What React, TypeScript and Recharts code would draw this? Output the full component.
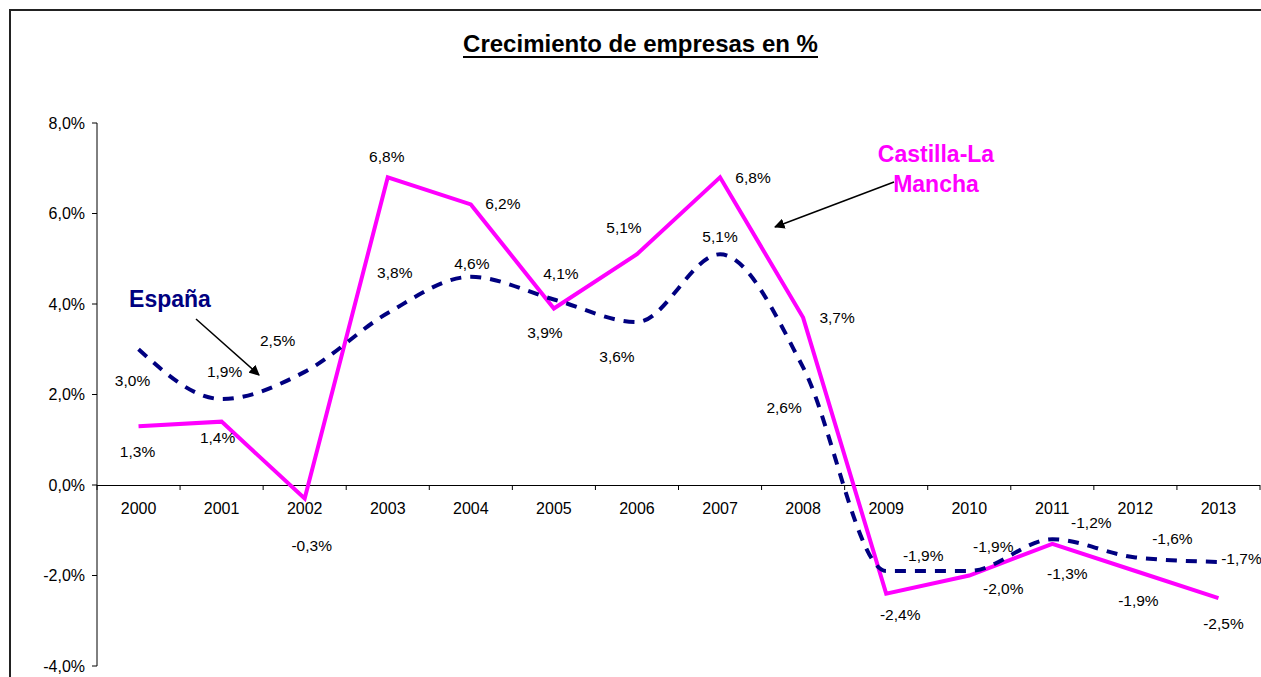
import React from 'react';
import { LineChart, Line, XAxis, YAxis, ReferenceLine } from 'recharts';

const years = ['2000', '2001', '2002', '2003', '2004', '2005', '2006', '2007', '2008', '2009', '2010', '2011', '2012', '2013'];
const espana = [3.0, 1.9, 2.5, 3.8, 4.6, 4.1, 3.6, 5.1, 2.6, -1.9, -1.9, -1.2, -1.6, -1.7];
const castilla = [1.3, 1.4, -0.3, 6.8, 6.2, 3.9, 5.1, 6.8, 3.7, -2.4, -2.0, -1.3, -1.9, -2.5];
const yTicks = [-4, -2, 0, 2, 4, 6, 8];

// label offsets from the point, in px (hand placed like the original)
const espanaLabelOffset = [
  [-6, 31], [3, -28], [-27, -31], [7, -41], [1, -13], [7, -26], [-20, 34],
  [0, -18], [-19, 40], [37, -15], [24, -24], [39, -17], [37, -19], [23, -3],
];
const castillaLabelOffset = [
  [-1, 25], [-4, 16], [7, 47], [-1, -21], [32, -1], [-9, 24], [-13, -27],
  [33, 0], [34, 0], [14, 21], [34, 13], [15, 30], [3, 30], [5, 25],
];

const W = 1261;
const H = 677;
const MARGIN = { top: 123, right: 1, bottom: 10, left: 0 };
const X_AXIS_H = 1;
const Y_AXIS_W = 97;
const Y_MIN = -4;
const Y_MAX = 8;
const PLOT_H = H - MARGIN.top - MARGIN.bottom - X_AXIS_H;
const PLOT_W = W - MARGIN.left - MARGIN.right - Y_AXIS_W;
const ZERO_Y = MARGIN.top + (PLOT_H * Y_MAX) / (Y_MAX - Y_MIN);
const BAND = PLOT_W / years.length;

const FONT = '"Liberation Sans", Arial, sans-serif';
const NAVY = '#000080';
const MAGENTA = '#FF00FF';

const data = years.map((year, i) => ({ year, espana: espana[i], castilla: castilla[i] }));

const fmt = (v: number) => v.toFixed(1).replace('.', ',') + '%';

const renderYearTick = (props: any) => {
  const { x, payload, index } = props;
  const left = x - BAND / 2;
  const right = x + BAND / 2;
  return (
    <g key={`yt-${index}`}>
      <line x1={left} x2={left} y1={ZERO_Y} y2={ZERO_Y + 5} stroke="#000" />
      {index === years.length - 1 && <line x1={right} x2={right} y1={ZERO_Y} y2={ZERO_Y + 5} stroke="#000" />}
      <text x={x} y={ZERO_Y + 29} textAnchor="middle" fontSize={16} fontFamily={FONT} fill="#000">
        {payload.value}
      </text>
    </g>
  );
};

const makeLabel = (offsets: number[][]) => (props: any) => {
  const { x, y, value, index } = props;
  const [dx, dy] = offsets[index] || [0, 0];
  return (
    <text
      key={index}
      x={x + dx}
      y={y + dy}
      textAnchor="middle"
      dominantBaseline="central"
      fontSize={15.5}
      fontFamily={FONT}
      fill="#000"
    >
      {fmt(value)}
    </text>
  );
};

export default function App() {
  return (
    <div style={{ position: 'absolute', left: 0, top: 0, width: W, height: H, background: '#fff', overflow: 'hidden' }}>
      <LineChart width={W} height={H} data={data} margin={MARGIN}>
        <XAxis
          dataKey="year"
          height={X_AXIS_H}
          axisLine={false}
          tickLine={false}
          tick={renderYearTick}
          interval={0}
          padding={{ left: BAND / 2, right: BAND / 2 }}
        />
        <YAxis
          width={Y_AXIS_W}
          domain={[Y_MIN, Y_MAX]}
          ticks={yTicks}
          tickFormatter={fmt}
          axisLine={{ stroke: '#000' }}
          tickLine={{ stroke: '#000' }}
          tickSize={5}
          tickMargin={7}
          tick={{ fontSize: 16, fontFamily: FONT, fill: '#000' }}
          interval={0}
        />
        <ReferenceLine y={0} stroke="#000" strokeWidth={1} shapeRendering="crispEdges" />
        <Line
          dataKey="castilla"
          type="linear"
          stroke={MAGENTA}
          strokeWidth={4}
          dot={false}
          isAnimationActive={false}
          label={makeLabel(castillaLabelOffset)}
        />
        <Line
          dataKey="espana"
          type="monotone"
          stroke={NAVY}
          strokeWidth={4}
          strokeDasharray="11 9"
          dot={false}
          isAnimationActive={false}
          label={makeLabel(espanaLabelOffset)}
        />
      </LineChart>
      <svg width={W} height={H} style={{ position: 'absolute', left: 0, top: 0, pointerEvents: 'none' }}>
        <defs>
          <marker id="arrow" viewBox="0 0 10 10" refX="9" refY="5" markerWidth="7" markerHeight="7" orient="auto">
            <path d="M0,0 L10,5 L0,10 z" fill="#000" />
          </marker>
        </defs>
        <rect x={10} y={10} width={W + 20} height={H + 20} fill="none" stroke="#222" strokeWidth={2} />
        <text x={640.5} y={52} textAnchor="middle" fontSize={24} fontWeight="bold" fontFamily={FONT} fill="#000">
          Crecimiento de empresas en %
        </text>
        <line x1={463} x2={818} y1={57} y2={57} stroke="#000" strokeWidth={2} />
        <text x={170} y={307} textAnchor="middle" fontSize={23} fontWeight="bold" fontFamily={FONT} fill={NAVY}>
          España
        </text>
        <line x1={196} y1={319} x2={259} y2={375} stroke="#000" strokeWidth={1.5} markerEnd="url(#arrow)" />
        <text x={936} y={162} textAnchor="middle" fontSize={23} fontWeight="bold" fontFamily={FONT} fill={MAGENTA}>
          Castilla-La
        </text>
        <text x={936} y={192} textAnchor="middle" fontSize={23} fontWeight="bold" fontFamily={FONT} fill={MAGENTA}>
          Mancha
        </text>
        <line x1={894} y1={182} x2={775} y2={227} stroke="#000" strokeWidth={1.5} markerEnd="url(#arrow)" />
      </svg>
    </div>
  );
}
